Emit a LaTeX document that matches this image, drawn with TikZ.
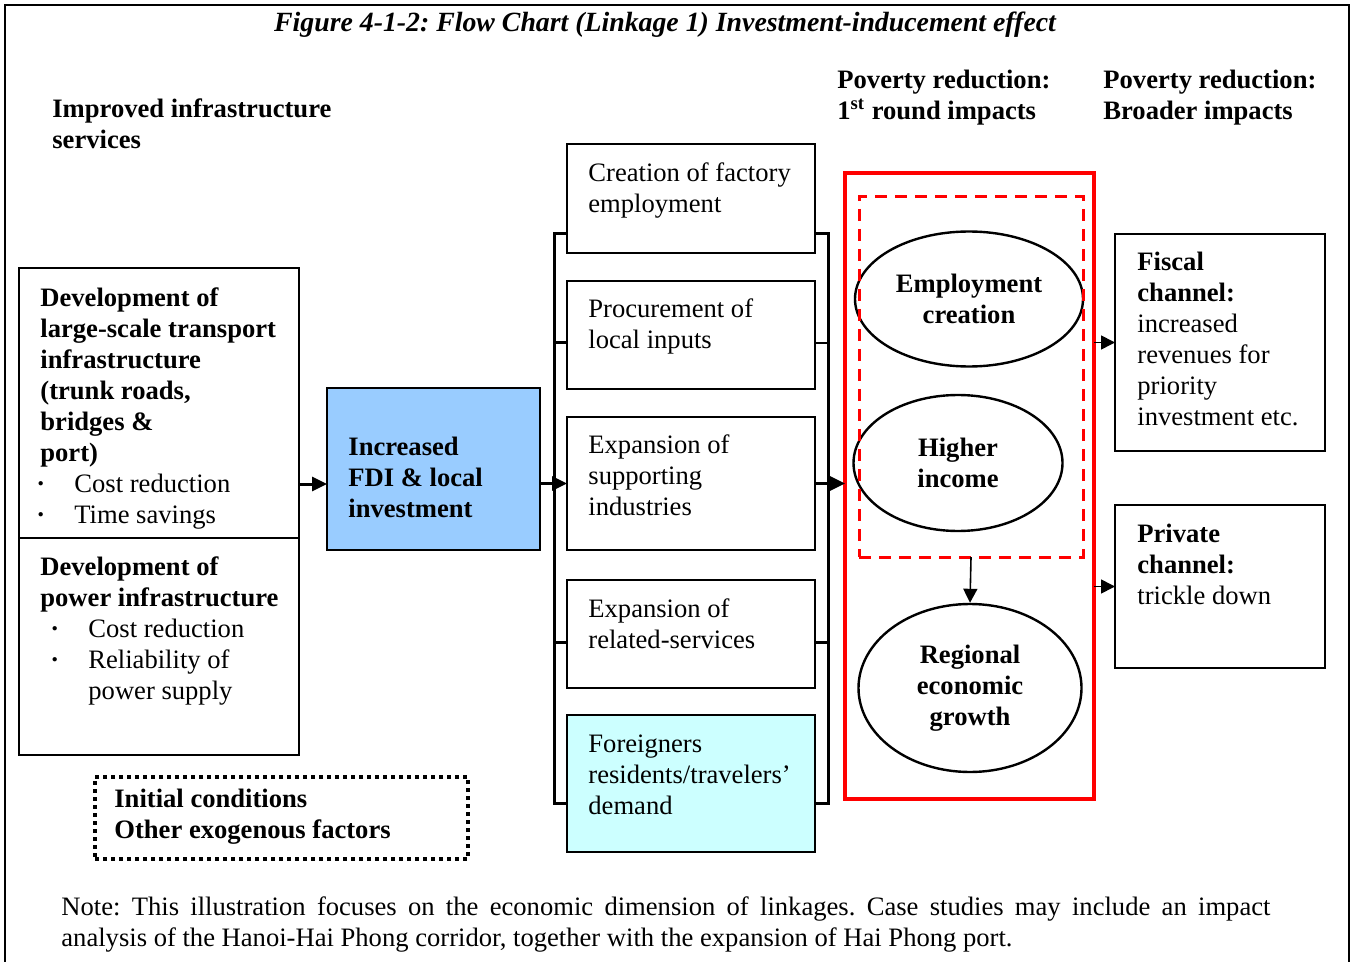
\documentclass[tikz,border=0pt]{standalone}
\usepackage{fontspec}
\setmainfont{Liberation Serif}
\usetikzlibrary{positioning}
\usetikzlibrary{shapes.geometric}
\usetikzlibrary{arrows.meta}

\definecolor{fdiblue}{HTML}{99CCFF}
\definecolor{demandcyan}{HTML}{CCFFFF}

\newcommand{\bul}[1]{\makebox[#1][l]{\textbf{\textperiodcentered}}}
\frenchspacing

\begin{document}
\begin{tikzpicture}[x=0.5pt,y=-0.5pt]
		\tikzstyle{elem} = [rectangle, draw=black, line width=1.2pt, inner sep=0pt, outer sep=0pt, minimum width=124pt]
		\tikzstyle{txt} = [anchor=north west, inner sep=0pt, align=left, font=\fontsize{13.3pt}{15.5pt}\selectfont]
		\tikzstyle{btxt} = [txt, font=\fontsize{13.3pt}{15.5pt}\selectfont\bfseries]
		\tikzstyle{oval} = [ellipse, draw=black, line width=1.2pt, inner sep=0pt, align=center, font=\fontsize{13.3pt}{15.5pt}\selectfont\bfseries]
		\tikzstyle{arr} = [-{Triangle[length=7.5pt,width=7pt]}, line width=1.5pt]
		\tikzstyle{thinarr} = [-{Triangle[length=7pt,width=7pt]}, line width=0.8pt]
		\tikzstyle{brace} = [line width=1.5pt]

		\useasboundingbox (0,0) rectangle (1353,962);
		\draw [line width=1pt] (5,962) -- (5,5) -- (1349,5) -- (1349,962);

		% headings
		\node (title) at (665,25) [font=\fontsize{13.9pt}{15pt}\selectfont\bfseries\itshape] {Figure 4-1-2: Flow Chart (Linkage 1) Investment-inducement effect};
		\node (infraHead) [btxt] at (52,98) {Improved infrastructure\\services};
		\node (firstHead) [btxt] at (837,70) {Poverty reduction:\\1\textsuperscript{st} round impacts};
		\node (broadHead) [btxt] at (1103,70) {Poverty reduction:\\Broader impacts};

		% infrastructure
		\node (transport) [elem, minimum width=140pt, minimum height=135pt] at (159,403) {};
		\node (power) [elem, minimum width=140pt, minimum height=108.5pt] at (159,646.5) {};
		\node (initial) [elem, line width=2pt, dash pattern=on 2pt off 2pt, minimum width=186.5pt, minimum height=41pt] at (281.5,818) {};
		\node (transportTxt) [txt] at ([xshift=10.5pt,yshift=-9.5pt]transport.north west) {\textbf{Development of}\\\textbf{large-scale transport}\\\textbf{infrastructure}\\\textbf{(trunk roads,}\\\textbf{bridges \&}\\\textbf{port)}\\\hspace*{-2pt}\bul{19pt}Cost reduction\\\hspace*{-2pt}\bul{19pt}Time savings};
		\node (powerTxt) [txt] at ([xshift=10.5pt,yshift=-9pt]power.north west) {\textbf{Development of}\\\textbf{power infrastructure}\\\hspace*{5pt}\bul{19pt}Cost reduction\\\hspace*{5pt}\bul{19pt}Reliability of\\\hspace*{24pt}power supply};
		\node (initialTxt) [btxt] at ([xshift=9.5pt,yshift=-6pt]initial.north west) {Initial conditions\\Other exogenous factors};

		% investment
		\node (fdi) [elem, fill=fdiblue, minimum width=106.5pt, minimum height=81pt] at (433.5,469) {};
		\node (fdiTxt) [btxt] at ([xshift=10.5pt,yshift=-24.5pt]fdi.north west) {Increased\\FDI \& local\\investment};

		% linkages
		\node (factory) [elem, minimum height=54.5pt] at (691,198.5) {};
		\node (procurement) [elem, minimum height=54pt, below=14pt of factory] {};
		\node (supporting) [elem, minimum height=66.5pt, below=14pt of procurement] {};
		\node (services) [elem, minimum height=54pt, below=15pt of supporting] {};
		\node (foreigners) [elem, fill=demandcyan, minimum height=68.5pt, below=13.5pt of services] {};
		\node (factoryTxt) [txt] at ([xshift=10.5pt,yshift=-9pt]factory.north west) {Creation of factory\\employment};
		\node (procurementTxt) [txt] at ([xshift=10.5pt,yshift=-8.5pt]procurement.north west) {Procurement of\\local inputs};
		\node (supportingTxt) [txt] at ([xshift=10.5pt,yshift=-8.5pt]supporting.north west) {Expansion of\\supporting\\industries};
		\node (servicesTxt) [txt] at ([xshift=10.5pt,yshift=-9pt]services.north west) {Expansion of\\related-services};
		\node (foreignersTxt) [txt] at ([xshift=10.5pt,yshift=-9.5pt]foreigners.north west) {Foreigners\\residents/travelers'\\demand};

		% first round impacts
		\node (firstRound) [rectangle, draw=red, line width=2pt, minimum width=124.5pt, minimum height=313pt, outer sep=0pt] at (969.5,486) {};
		\node (employment) [oval, minimum width=114pt, minimum height=67.5pt] at (969,299) {Employment\\creation};
		\node (income) [oval, minimum width=104.5pt, minimum height=68pt] at (958,463) {Higher\\income};
		\node (growth) [oval, minimum width=111.5pt, minimum height=84pt] at (970,688) {Regional\\economic\\growth};
		\node (coreImpacts) [rectangle, draw=red, line width=1.5pt, dash pattern=on 6pt off 4pt, minimum width=112pt, minimum height=180pt, outer sep=0pt] at (971,377) {};

		% broader impacts
		\node (fiscal) [elem, minimum width=105pt, minimum height=108.5pt] at (1220,342.5) {};
		\node (private) [elem, minimum width=105pt, minimum height=81.5pt] at (1220,586.5) {};
		\node (fiscalTxt) [txt] at ([xshift=11pt,yshift=-9pt]fiscal.north west) {\textbf{Fiscal}\\\textbf{channel:}\\increased\\revenues for\\priority\\investment etc.};
		\node (privateTxt) [txt] at ([xshift=11pt,yshift=-9.5pt]private.north west) {\textbf{Private}\\\textbf{channel:}\\trickle down};

		% note
		\node (note) [txt] at (61,896) {\makebox[604.5pt][s]{Note: This illustration focuses on the economic dimension of linkages. Case studies may include an impact}\\analysis of the Hanoi-Hai Phong corridor, together with the expansion of Hai Phong port.};

		% connectors
		\coordinate (transportOut) at ([yshift=-40.5pt]transport.east);
		\draw [arr] (transportOut) -- (transportOut -| fdi.west);
		\draw [arr] (supporting.west -| fdi.east) -- (supporting.west);
		\draw [brace] ([yshift=9.5pt]factory.south west) -- ++(-6.5pt,0) |- ([yshift=-10pt]foreigners.west);
		\draw [brace] ([yshift=9.5pt]factory.south east) -- ++(6.5pt,0) |- ([yshift=-10pt]foreigners.east);
		\foreach \n in {procurement, services}
			\draw [brace] ([yshift=-4pt]\n.west) -- ++(-6.5pt,0);
		\draw [line width=0.6pt] ([yshift=-4pt]procurement.east) -- ++(6.5pt,0);
		\draw [brace] ([yshift=-4pt]services.east) -- ++(6.5pt,0);
		\draw [arr] (supporting.east) -- (supporting.east -| firstRound.west);
		\draw [thinarr] (coreImpacts.south) -- (growth.north);
		\draw [thinarr] (fiscal.west -| firstRound.east) -- (fiscal.west);
		\draw [thinarr] (private.west -| firstRound.east) -- (private.west);
	\end{tikzpicture}
\end{document}
